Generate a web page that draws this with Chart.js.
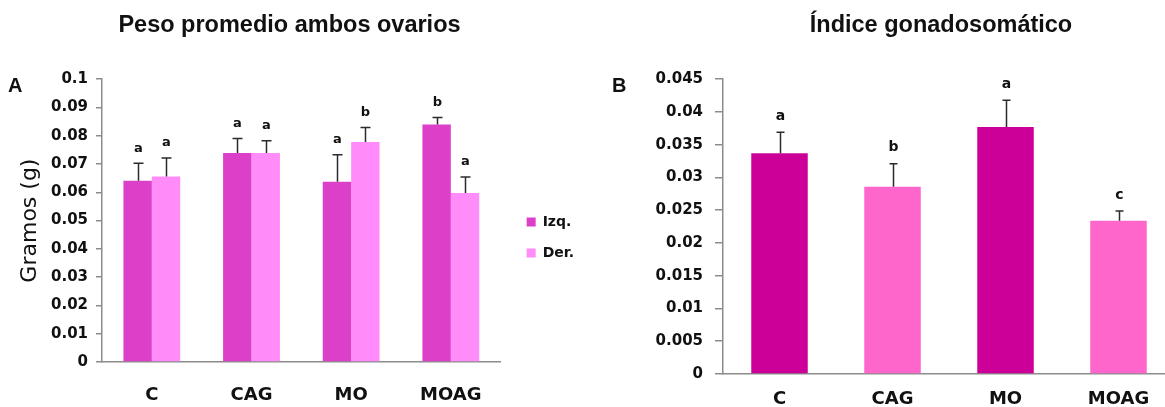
<!DOCTYPE html>
<html>
<head>
<meta charset="utf-8">
<title>Ovarios</title>
<script src="https://cdn.jsdelivr.net/npm/chart.js@4.4.1/dist/chart.umd.min.js"></script>
<style>
  html, body { margin: 0; padding: 0; background: #fff; overflow: hidden; width: 1165px; height: 407px; }
  .wrap { position: absolute; top: 0; height: 407px; }
  #wa { left: 0; width: 600px; }
  #wb { left: 600px; width: 580px; }
  .panel { position: absolute; font: bold 20px "Liberation Sans", Arial, sans-serif; color: #111; line-height: 23px; }
</style>
</head>
<body>
<div class="wrap" id="wa"><canvas id="ca" width="600" height="407"></canvas></div>
<div class="wrap" id="wb"><canvas id="cb" width="580" height="407"></canvas></div>
<div class="panel" style="left:8px;top:74px">A</div>
<div class="panel" style="left:612px;top:74px">B</div>
<script>
// Groups
const categories = ['C', 'CAG', 'MO', 'MOAG'];

// Panel A: mean ovary weight (g), left and right ovary, with SE and significance letters
const izqValues  = [0.0641, 0.0739, 0.0637, 0.0840];
const izqErrors  = [0.0062, 0.0051, 0.0096, 0.0025];
const izqLetters = ['a', 'a', 'a', 'b'];
const derValues  = [0.0656, 0.0739, 0.0778, 0.0598];
const derErrors  = [0.0065, 0.0043, 0.0051, 0.0056];
const derLetters = ['a', 'a', 'b', 'a'];
const weightTickLabels = ['0', '0.01', '0.02', '0.03', '0.04', '0.05', '0.06', '0.07', '0.08', '0.09', '0.1'];

// Panel B: gonadosomatic index
const gsiValues  = [0.0337, 0.0286, 0.0377, 0.0234];
const gsiErrors  = [0.0032, 0.0035, 0.0041, 0.0015];
const gsiLetters = ['a', 'b', 'a', 'c'];
const gsiTickLabels = ['0', '0.005', '0.01', '0.015', '0.02', '0.025', '0.03', '0.035', '0.04', '0.045'];

const TICK_FONT = { family: '"DejaVu Sans", sans-serif', weight: 'bold' };
const INK = '#111';
const AXIS = '#8c8c8c';

// Upper error whiskers with a cap, plus the letter above each whisker
const errorBars = {
  id: 'errorBars',
  afterDatasetsDraw(chart, args, opts) {
    const { ctx } = chart;
    const yScale = chart.scales.y;
    chart.data.datasets.forEach((ds, i) => {
      const meta = chart.getDatasetMeta(i);
      meta.data.forEach((bar, j) => {
        const yTop = yScale.getPixelForValue(ds.data[j] + ds.errors[j]);
        const x = Math.round(bar.x) + 0.5;
        ctx.save();
        ctx.strokeStyle = '#2b2b2b';
        ctx.lineWidth = 1.5;
        ctx.beginPath();
        ctx.moveTo(x, bar.y);
        ctx.lineTo(x, yTop);
        ctx.moveTo(x - opts.cap, yTop);
        ctx.lineTo(x + opts.cap, yTop);
        ctx.stroke();
        ctx.fillStyle = INK;
        ctx.font = 'bold ' + opts.letterSize + 'px "DejaVu Sans", sans-serif';
        ctx.textAlign = 'center';
        ctx.textBaseline = 'middle';
        ctx.fillText(ds.letters[j], x, yTop - opts.gap);
        ctx.restore();
      });
    });
  }
};

// Shifts the title and legend blocks after layout
const boxNudge = {
  id: 'boxNudge',
  afterLayout(chart, args, opts) {
    const shift = (box, d) => {
      if (!box || !d) return;
      box.left += d.x || 0; box.right += d.x || 0;
      box.top += d.y || 0; box.bottom += d.y || 0;
    };
    shift(chart.legend, opts.legend);
    shift(chart.titleBlock, opts.title);
  }
};

new Chart(document.getElementById('ca'), {
  type: 'bar',
  data: {
    labels: categories,
    datasets: [
      { label: 'Izq.', data: izqValues, errors: izqErrors, letters: izqLetters,
        backgroundColor: '#DD40C8', borderWidth: 0 },
      { label: 'Der.', data: derValues, errors: derErrors, letters: derLetters,
        backgroundColor: '#FF8CF8', borderWidth: 0 }
    ]
  },
  options: {
    responsive: false,
    animation: false,
    categoryPercentage: 0.57,
    barPercentage: 1.0,
    layout: { padding: { left: 0, right: 25, top: 0, bottom: 0 } },
    plugins: {
      title: {
        display: true,
        text: 'Peso promedio ambos ovarios',
        color: INK,
        font: { family: '"Liberation Sans", Arial, sans-serif', size: 23.5, weight: 'bold', lineHeight: 1.2 },
        padding: { top: 11, bottom: 40 }
      },
      legend: {
        position: 'right',
        labels: {
          boxWidth: 9, boxHeight: 9, padding: 17, color: INK,
          font: { family: '"DejaVu Sans", sans-serif', size: 14, weight: 'bold' }
        }
      },
      boxNudge: { legend: { x: 9, y: 34 }, title: { x: 2, y: 0 } },
      errorBars: { cap: 5, gap: 15, letterSize: 13 },
      tooltip: { enabled: false }
    },
    scales: {
      x: {
        grid: { display: false, drawTicks: false },
        border: { display: true, color: AXIS, width: 1.5 },
        ticks: { color: INK, padding: 23, font: { ...TICK_FONT, size: 18 } },
        afterFit(scale) { scale.height = 45; }
      },
      y: {
        min: 0, max: 0.1,
        ticks: {
          stepSize: 0.01, color: INK, padding: 8,
          font: { ...TICK_FONT, size: 15 },
          callback: (v, i) => weightTickLabels[i]
        },
        grid: { drawOnChartArea: false, drawTicks: true, tickLength: 6, color: AXIS, lineWidth: 1.5 },
        border: { display: true, color: AXIS, width: 1.5 },
        title: {
          display: true, text: 'Gramos (g)', color: INK,
          font: { family: '"DejaVu Sans", sans-serif', size: 22, weight: 'normal', lineHeight: 1.2 },
          padding: { top: 17, bottom: 0 }
        },
        afterFit(scale) { scale.width = 102; }
      }
    }
  },
  plugins: [errorBars, boxNudge]
});

new Chart(document.getElementById('cb'), {
  type: 'bar',
  data: {
    labels: categories,
    datasets: [
      { label: 'Índice gonadosomático', data: gsiValues, errors: gsiErrors, letters: gsiLetters,
        backgroundColor: ['#CC0099', '#FF66CC', '#CC0099', '#FF66CC'], borderWidth: 0 }
    ]
  },
  options: {
    responsive: false,
    animation: false,
    categoryPercentage: 0.5,
    barPercentage: 1.0,
    layout: { padding: { left: 0, right: 5, top: 0, bottom: 0 } },
    plugins: {
      title: {
        display: true,
        fullSize: false,
        text: 'Índice gonadosomático',
        color: INK,
        font: { family: '"Liberation Sans", Arial, sans-serif', size: 23.5, weight: 'bold', lineHeight: 1.2 },
        padding: { top: 11, bottom: 40 }
      },
      legend: { display: false },
      boxNudge: { title: { x: -8, y: 0 } },
      errorBars: { cap: 4, gap: 16, letterSize: 14 },
      tooltip: { enabled: false }
    },
    scales: {
      x: {
        grid: { display: false, drawTicks: false },
        border: { display: true, color: AXIS, width: 1.5 },
        ticks: { color: INK, padding: 15, font: { ...TICK_FONT, size: 18 } },
        afterFit(scale) { scale.height = 33; }
      },
      y: {
        min: 0, max: 0.045,
        ticks: {
          stepSize: 0.005, color: INK, padding: 12,
          font: { ...TICK_FONT, size: 15 },
          callback: (v, i) => gsiTickLabels[i]
        },
        grid: { drawOnChartArea: false, drawTicks: true, tickLength: 8, color: AXIS, lineWidth: 1.5 },
        border: { display: true, color: AXIS, width: 1.5 },
        afterFit(scale) { scale.width = 123; }
      }
    }
  },
  plugins: [errorBars, boxNudge]
});
</script>
</body>
</html>
